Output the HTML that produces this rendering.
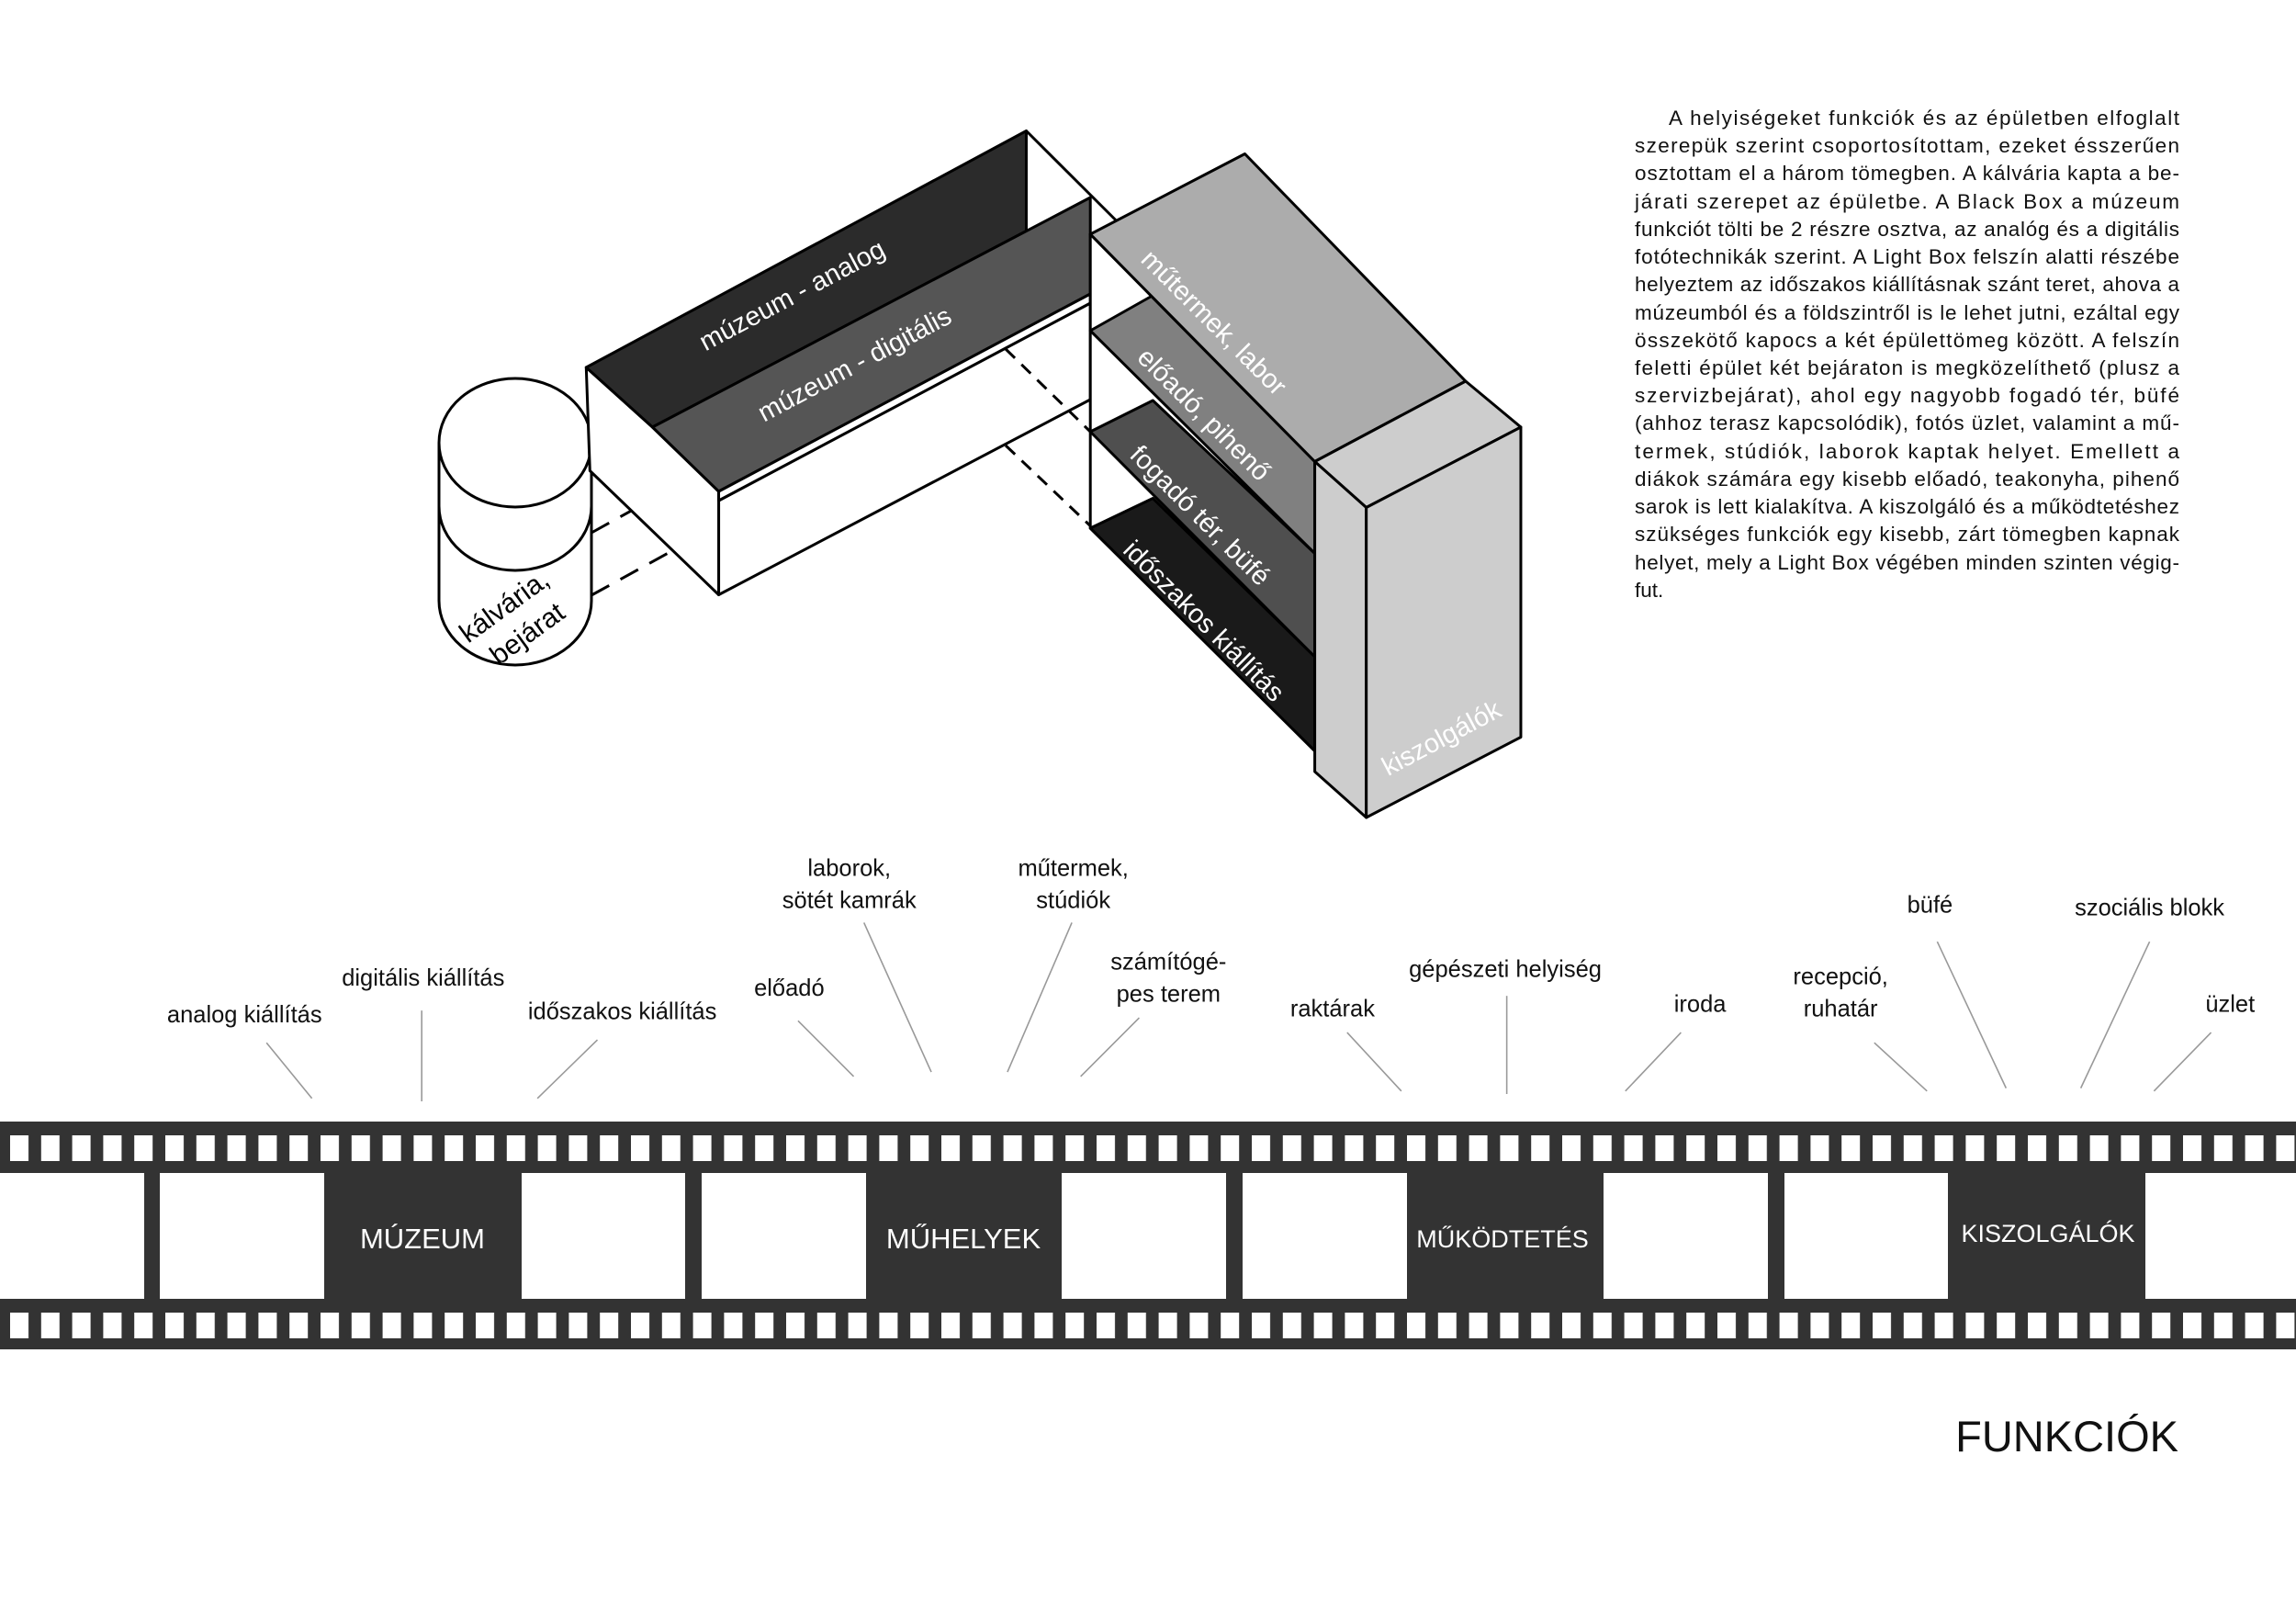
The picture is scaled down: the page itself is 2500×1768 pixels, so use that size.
<!DOCTYPE html>
<html><head><meta charset="utf-8"><style>
html,body{margin:0;padding:0;background:#fff;}
svg{display:block;}
text{font-family:"Liberation Sans",sans-serif;}
</style></head><body>
<svg width="2500" height="1768" viewBox="0 0 2500 1768" xmlns="http://www.w3.org/2000/svg">
<defs>
<pattern id="holes" x="11" y="0" width="33.8" height="1768" patternUnits="userSpaceOnUse">
<rect x="0" y="1236" width="20" height="28" fill="#fff"/>
<rect x="0" y="1429" width="20" height="28" fill="#fff"/>
</pattern>
</defs>
<rect width="2500" height="1768" fill="#fff"/>

<!-- cylinder (full coords) -->
<g stroke="#000" stroke-width="3" fill="#fff">
 <path d="M478,482 L478,654 A83,70 0 0 0 644,654 L644,482"/>
 <path d="M478,551 A83,70 0 0 0 644,551" fill="none"/>
 <ellipse cx="561" cy="482" rx="83" ry="70"/>
 <path d="M644,580 L700,549 M644,648 L735,598" stroke-dasharray="22 14" fill="none"/>
</g>

<!-- DIAGRAM in zoom coords -->
<g transform="translate(450,120) scale(0.8013,0.5)" stroke="#000" stroke-width="3" stroke-linejoin="round">
 <path d="M833,45 L955,240" fill="none" vector-effect="non-scaling-stroke"/>
 <polygon points="415,850 920,420 920,630 415,1055" fill="#fff" vector-effect="non-scaling-stroke"/>
 <polygon points="235,560 325,690 415,830 415,1055 240,785" fill="#fff" vector-effect="non-scaling-stroke"/>
 <polygon points="235,560 833,45 833,263 325,690" fill="#2b2b2b" vector-effect="non-scaling-stroke"/>
 <polygon points="325,690 920,190 920,400 415,830" fill="#555" vector-effect="non-scaling-stroke"/>
 <polygon points="415,830 920,400 920,420 415,850" fill="#fff" vector-effect="non-scaling-stroke"/>
 <path d="M805,520 L920,700 M805,730 L920,905" stroke-dasharray="14 10" fill="none" vector-effect="non-scaling-stroke"/>
 <polygon points="920,270 1225,765 1225,1395 920,910" fill="#fff" vector-effect="non-scaling-stroke"/>
 <polygon points="920,480 1003,405 1225,765 1225,965" fill="#808080" vector-effect="non-scaling-stroke"/>
 <polygon points="920,700 1005,632 1225,965 1225,1190" fill="#4f4f4f" vector-effect="non-scaling-stroke"/>
 <polygon points="920,910 1005,845 1225,1190 1225,1395" fill="#1a1a1a" vector-effect="non-scaling-stroke"/>
 <polygon points="920,270 1130,95 1430,590 1225,765" fill="#acacac" vector-effect="non-scaling-stroke"/>
 <polygon points="1225,765 1430,590 1505,690 1295,865" fill="#cdcdcd" vector-effect="non-scaling-stroke"/>
 <polygon points="1225,765 1295,865 1295,1540 1225,1440" fill="#cdcdcd" vector-effect="non-scaling-stroke"/>
 <polygon points="1295,865 1505,690 1505,1365 1295,1540" fill="#cdcdcd" vector-effect="non-scaling-stroke"/>
</g>

<!-- diagram labels -->
<g fill="#fff" font-size="29" text-anchor="middle">
 <text transform="translate(867,330) rotate(-28)">múzeum - analog</text>
 <text transform="translate(935,405) rotate(-28)">múzeum - digitális</text>
 <text transform="translate(1315,358) rotate(45)">műtermek, labor</text>
 <text transform="translate(1304,458) rotate(45)">előadó, pihenő</text>
 <text transform="translate(1300,568) rotate(45)">fogadó tér, büfé</text>
 <text transform="translate(1304,683) rotate(45)">időszakos kiállítás</text>
 <text transform="translate(1574,812) rotate(-28)">kiszolgálók</text>
</g>
<g fill="#000" font-size="30" text-anchor="middle">
 <text transform="translate(555,668) rotate(-36)">kálvária,</text>
 <text transform="translate(580,698) rotate(-36)">bejárat</text>
</g>

<!-- paragraph -->
<g font-size="22.5" fill="#111">
<text x="1817" y="136" textLength="556" lengthAdjust="spacing">A helyiségeket funkciók és az épületben elfoglalt</text>
<text x="1780" y="166" textLength="593" lengthAdjust="spacing">szerepük szerint csoportosítottam, ezeket ésszerűen</text>
<text x="1780" y="196" textLength="593" lengthAdjust="spacing">osztottam el a három tömegben. A kálvária kapta a be-</text>
<text x="1780" y="227" textLength="593" lengthAdjust="spacing">járati szerepet az épületbe. A Black Box a múzeum</text>
<text x="1780" y="257" textLength="593" lengthAdjust="spacing">funkciót tölti be 2 részre osztva, az analóg és a digitális</text>
<text x="1780" y="287" textLength="593" lengthAdjust="spacing">fotótechnikák szerint. A Light Box felszín alatti részébe</text>
<text x="1780" y="317" textLength="593" lengthAdjust="spacing">helyeztem az időszakos kiállításnak szánt teret, ahova a</text>
<text x="1780" y="348" textLength="593" lengthAdjust="spacing">múzeumból és a földszintről is le lehet jutni, ezáltal egy</text>
<text x="1780" y="378" textLength="593" lengthAdjust="spacing">összekötő kapocs a két épülettömeg között. A felszín</text>
<text x="1780" y="408" textLength="593" lengthAdjust="spacing">feletti épület két bejáraton is megközelíthető (plusz a</text>
<text x="1780" y="438" textLength="593" lengthAdjust="spacing">szervizbejárat), ahol egy nagyobb fogadó tér, büfé</text>
<text x="1780" y="468" textLength="593" lengthAdjust="spacing">(ahhoz terasz kapcsolódik), fotós üzlet, valamint a mű-</text>
<text x="1780" y="499" textLength="593" lengthAdjust="spacing">termek, stúdiók, laborok kaptak helyet. Emellett a</text>
<text x="1780" y="529" textLength="593" lengthAdjust="spacing">diákok számára egy kisebb előadó, teakonyha, pihenő</text>
<text x="1780" y="559" textLength="593" lengthAdjust="spacing">sarok is lett kialakítva. A kiszolgáló és a működtetéshez</text>
<text x="1780" y="589" textLength="593" lengthAdjust="spacing">szükséges funkciók egy kisebb, zárt tömegben kapnak</text>
<text x="1780" y="620" textLength="593" lengthAdjust="spacing">helyet, mely a Light Box végében minden szinten végig-</text>
<text x="1780" y="650">fut.</text>
</g>

<!-- labels above strip (preview coords) -->
<g transform="scale(1.5944)">
 <g stroke="#999" stroke-width="1" fill="none">
  <path d="M213,750 L182,712"/>
  <path d="M288,752 L288,690"/>
  <path d="M367,750 L408,710"/>
  <path d="M583,735 L545,697"/>
  <path d="M636,732 L590,630"/>
  <path d="M688,732 L732,630"/>
  <path d="M738,735 L778,695"/>
  <path d="M957,745 L920,705"/>
  <path d="M1029,747 L1029,680"/>
  <path d="M1110,745 L1148,705"/>
  <path d="M1316,745 L1280,712"/>
  <path d="M1370,743 L1323,643"/>
  <path d="M1421,743 L1468,643"/>
  <path d="M1471,745 L1510,705"/>
 </g>
 <g font-size="16" fill="#111" text-anchor="middle">
  <text x="167" y="698">analog kiállítás</text>
  <text x="289" y="673">digitális kiállítás</text>
  <text x="425" y="696">időszakos kiállítás</text>
  <text x="539" y="680">előadó</text>
  <text x="580" y="598">laborok,</text>
  <text x="580" y="620">sötét kamrák</text>
  <text x="733" y="598">műtermek,</text>
  <text x="733" y="620">stúdiók</text>
  <text x="798" y="662">számítógé-</text>
  <text x="798" y="684">pes terem</text>
  <text x="910" y="694">raktárak</text>
  <text x="1028" y="667">gépészeti helyiség</text>
  <text x="1161" y="691">iroda</text>
  <text x="1257" y="672">recepció,</text>
  <text x="1257" y="694">ruhatár</text>
  <text x="1318" y="623">büfé</text>
  <text x="1468" y="625">szociális blokk</text>
  <text x="1523" y="691">üzlet</text>
 </g>
</g>

<!-- film strip -->
<rect x="0" y="1221" width="2500" height="248" fill="#333"/>
<rect x="0" y="1221" width="2500" height="248" fill="url(#holes)"/>
<g fill="#fff">
 <rect x="0" y="1277" width="157" height="137"/>
 <rect x="174" y="1277" width="179" height="137"/>
 <rect x="568" y="1277" width="178" height="137"/>
 <rect x="764" y="1277" width="179" height="137"/>
 <rect x="1156" y="1277" width="179" height="137"/>
 <rect x="1353" y="1277" width="179" height="137"/>
 <rect x="1746" y="1277" width="179" height="137"/>
 <rect x="1943" y="1277" width="178" height="137"/>
 <rect x="2336" y="1277" width="164" height="137"/>
</g>
<g fill="#fff" text-anchor="middle">
 <text x="460" y="1359" font-size="31">MÚZEUM</text>
 <text x="1049" y="1359" font-size="31">MŰHELYEK</text>
 <text x="1636" y="1358" font-size="27">MŰKÖDTETÉS</text>
 <text x="2230" y="1352" font-size="27">KISZOLGÁLÓK</text>
</g>

<text x="2372" y="1580" font-size="47" text-anchor="end" fill="#111">FUNKCIÓK</text>
</svg>
</body></html>
